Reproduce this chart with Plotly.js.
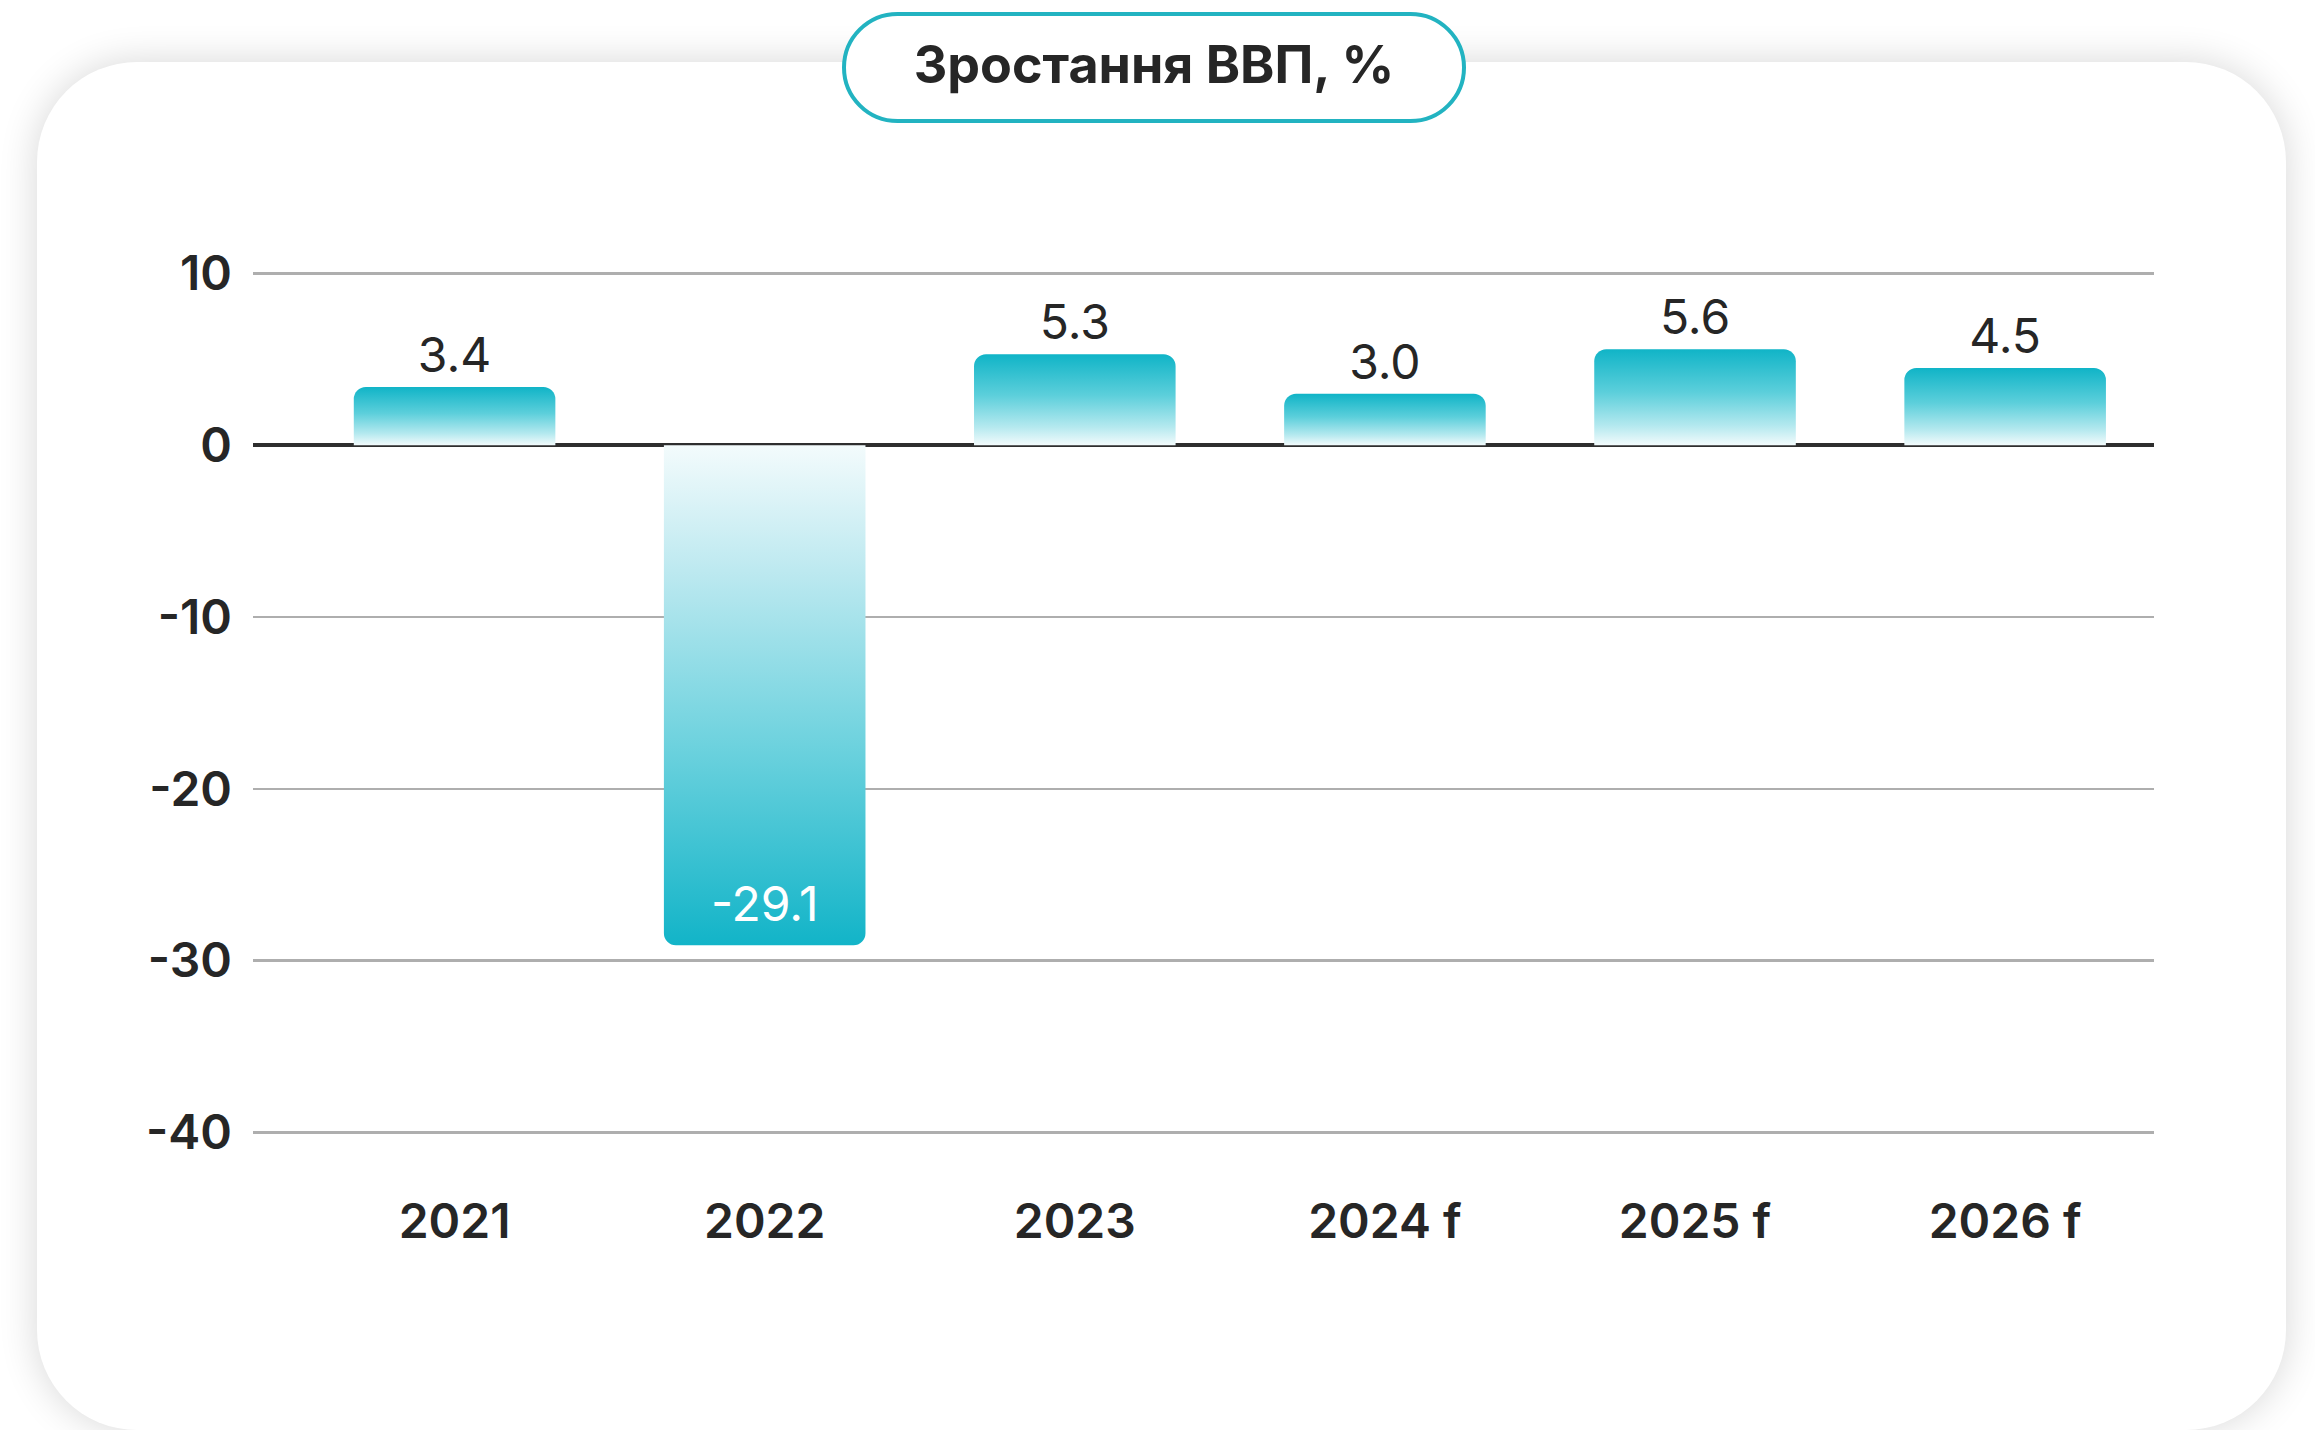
<!DOCTYPE html>
<html>
<head>
<meta charset="utf-8">
<script src="https://cdn.plot.ly/plotly-3.0.1.min.js"></script>
<style>
  html, body { margin: 0; padding: 0; background: #ffffff; width: 2315px; height: 1430px; overflow: hidden; }
  #card { position: absolute; left: 37px; top: 62px; width: 2249px; height: 1368px; background: #ffffff;
          border-radius: 100px 100px 100px 100px; box-shadow: 0 0 38px rgba(0,0,0,0.16); }
  #pill { position: absolute; left: 842px; top: 12px; width: 616px; height: 103px; background: #ffffff;
          border: 4px solid #22b3c1; border-radius: 60px; }
  #chart { position: absolute; left: 0; top: 0; width: 2315px; height: 1430px; }
</style>
</head>
<body>
<div id="card"></div>
<div id="pill"></div>
<div id="chart"></div>
<script>
// ---- data ----
const categories = ["2021", "2022", "2023", "2024 f", "2025 f", "2026 f"];
const gdpGrowth = [3.4, -29.1, 5.3, 3.0, 5.6, 4.5];
const yTickValues = [-40, -30, -20, -10, 0, 10];
const yTickLabels = ["-40", "-30", "-20", "-10", "0", "10"];
const chartTitle = "Зростання ВВП, %";

const FONT = "Inter, 'Open Sans', 'DejaVu Sans', sans-serif";

const trace = {
  type: "bar",
  x: categories,
  y: gdpGrowth,
  width: 0.65,
  text: gdpGrowth.map(v => v.toFixed(1)),
  textposition: gdpGrowth.map(v => v < 0 ? "inside" : "outside"),
  insidetextanchor: "end",
  constraintext: "none",
  cliponaxis: false,
  textangle: 0,
  outsidetextfont: { family: FONT, size: 48, color: "#262626", weight: 400 },
  insidetextfont: { family: FONT, size: 48, color: "#ffffff", weight: 400 },
  marker: { color: "#17b6c9", cornerradius: 12, line: { width: 0 } },
  hoverinfo: "skip"
};

const layout = {
  width: 2315,
  height: 1430,
  paper_bgcolor: "rgba(0,0,0,0)",
  plot_bgcolor: "rgba(0,0,0,0)",
  margin: { l: 253, r: 161, t: 265, b: 289, pad: 0 },
  showlegend: false,
  title: {
    text: chartTitle,
    font: { family: FONT, size: 52, color: "#262626", weight: 700 },
    x: 0.4985, xref: "container", xanchor: "center",
    y: 1 - 65 / 1430, yref: "container", yanchor: "middle"
  },
  xaxis: {
    type: "category",
    range: [-0.65, 5.48],
    showgrid: false,
    zeroline: false,
    showline: false,
    ticks: "",
    ticklabelstandoff: 48,
    tickfont: { family: FONT, size: 48, color: "#262626", weight: 600 },
    fixedrange: true
  },
  yaxis: {
    range: [-40.5, 10.5],
    tickmode: "array",
    tickvals: yTickValues,
    ticktext: yTickLabels,
    showgrid: true,
    gridcolor: "#aeaeae",
    gridwidth: 2.5,
    zeroline: true,
    zerolinecolor: "#2e2e2e",
    zerolinewidth: 4,
    showline: false,
    ticks: "",
    ticklabelstandoff: 20,
    tickfont: { family: FONT, size: 48, color: "#262626", weight: 600 },
    fixedrange: true
  },
  bargap: 0.35
};

Plotly.newPlot("chart", [trace], layout, { displayModeBar: false, staticPlot: true }).then(gd => {
  const svg = gd.querySelector("svg.main-svg");
  const NS = "http://www.w3.org/2000/svg";
  let defs = svg.querySelector("defs");
  if (!defs) { defs = document.createElementNS(NS, "defs"); svg.insertBefore(defs, svg.firstChild); }
  function makeGrad(id, stops) {
    const g = document.createElementNS(NS, "linearGradient");
    g.setAttribute("id", id);
    g.setAttribute("x1", "0"); g.setAttribute("y1", "0");
    g.setAttribute("x2", "0"); g.setAttribute("y2", "1");
    stops.forEach(([o, c]) => {
      const s = document.createElementNS(NS, "stop");
      s.setAttribute("offset", o);
      s.setAttribute("stop-color", c);
      g.appendChild(s);
    });
    defs.appendChild(g);
  }
  makeGrad("gradPos", [[0, "#10b4c7"], [0.45, "#5ccfdb"], [0.8, "#b5e9ef"], [1, "#f3fbfc"]]);
  makeGrad("gradNeg", [[0, "#f3fbfc"], [0.25, "#bde9f0"], [0.6, "#6dd2de"], [1, "#12b4c8"]]);
  const paths = gd.querySelectorAll(".trace.bars .point path");
  paths.forEach((p, i) => {
    p.style.fill = gdpGrowth[i] < 0 ? "url(#gradNeg)" : "url(#gradPos)";
  });
});
</script>
</body>
</html>
